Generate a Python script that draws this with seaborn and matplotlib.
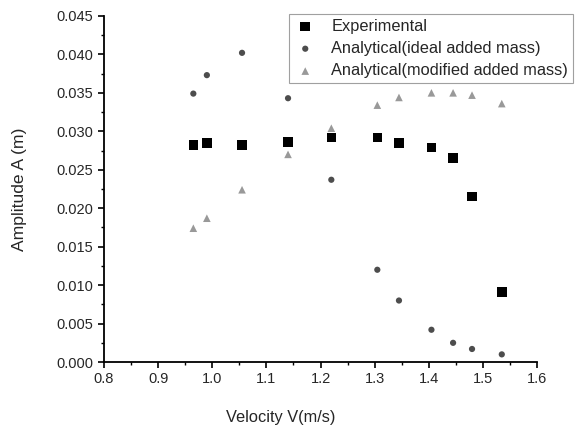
import matplotlib
matplotlib.use("Agg")
import matplotlib.pyplot as plt
import seaborn as sns
import pandas as pd
from matplotlib.ticker import MultipleLocator, FormatStrFormatter

velocity = [0.965, 0.99, 1.055, 1.14, 1.22, 1.305, 1.345, 1.405, 1.445, 1.48, 1.535]
experimental = [0.0282, 0.0285, 0.0282, 0.0286, 0.0292, 0.0292, 0.0285, 0.0279, 0.0265, 0.0215, 0.0091]
ideal = [0.0349, 0.0373, 0.0402, 0.0343, 0.0237, 0.0120, 0.0080, 0.0042, 0.0025, 0.0017, 0.0010]
modified = [0.0174, 0.0187, 0.0224, 0.0270, 0.0304, 0.0334, 0.0344, 0.0350, 0.0350, 0.0347, 0.0336]
series_names = ["Experimental", "Analytical(ideal added mass)", "Analytical(modified added mass)"]

sns.set_style("ticks")
plt.rcParams['font.family'] = ['Liberation Sans', 'DejaVu Sans']

df = pd.DataFrame({
    "V": velocity * 3,
    "A": experimental + ideal + modified,
    "series": [series_names[0]] * len(velocity) + [series_names[1]] * len(velocity) + [series_names[2]] * len(velocity),
})

fig = plt.figure(figsize=(5.78, 4.30), dpi=100)
ax = fig.add_axes([0.18, 0.158, 0.749, 0.805])

palette = {series_names[0]: "#000000", series_names[1]: "#4d4d4d", series_names[2]: "#999999"}
markers = {series_names[0]: "s", series_names[1]: "o", series_names[2]: "^"}
sizes = {series_names[0]: 48, series_names[1]: 20, series_names[2]: 30}

for name in series_names:
    sub = df[df.series == name]
    sns.scatterplot(data=sub, x="V", y="A", color=palette[name], marker=markers[name],
                    s=sizes[name], edgecolor="none", ax=ax, label=name)

ax.set_xlim(0.8, 1.6)
ax.set_ylim(0.0, 0.045)
ax.xaxis.set_major_locator(MultipleLocator(0.1))
ax.xaxis.set_minor_locator(MultipleLocator(0.05))
ax.yaxis.set_major_locator(MultipleLocator(0.005))
ax.yaxis.set_minor_locator(MultipleLocator(0.0025))
ax.xaxis.set_major_formatter(FormatStrFormatter('%.1f'))
ax.yaxis.set_major_formatter(FormatStrFormatter('%.3f'))
ax.tick_params(which='major', direction='out', length=4, width=1.2, labelsize=10.5, color='black')
ax.tick_params(which='minor', direction='out', length=2.5, width=1.0, color='black')
for side in ['left', 'bottom']:
    ax.spines[side].set_linewidth(1.3)
    ax.spines[side].set_color('black')
sns.despine(ax=ax)

ax.set_xlabel("Velocity V(m/s)", fontsize=11.8)
ax.xaxis.set_label_coords(0.409, -0.139)
ax.set_ylabel("Amplitude A (m)", fontsize=12.6, labelpad=21)

leg = ax.legend(loc='upper left', bbox_to_anchor=(0.408, 1.03), frameon=True, fancybox=False,
                edgecolor='#888888', fontsize=11.8, handletextpad=0.9, borderpad=0.3,
                labelspacing=0.45, handlelength=1.4, markerscale=1.0)
leg.get_frame().set_linewidth(0.8)

fig.savefig("out.png", dpi=100)
